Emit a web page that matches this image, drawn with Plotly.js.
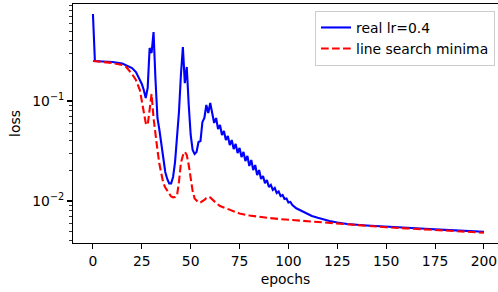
<!DOCTYPE html>
<html>
<head>
<meta charset="utf-8">
<script src="https://cdn.plot.ly/plotly-3.0.1.min.js"></script>
<style>html,body{margin:0;padding:0;background:#fff;}#chart{width:498px;height:292px;}</style>
</head>
<body>
<div id="chart"></div>
<script>
// Blue: real lr=0.4
const realEpochs = [0,1,5,10,15,18,20,22,24,25,26,27,28,29,30,31,32,33,34,35,36,37,38,39,40,41,42,43,44,45,46,47,48,49,50,51,52,53,54,55,56,57,58,59,60,61,
  62,63,64,65,66,67,68,69,70,71,72,73,74,75,76,77,78,79,80,81,82,83,84,85,86,87,88,89,90,91,92,93,94,95,96,97,98,99,100,101,102,
  104,107,109,112,115,118,121,125,130,140,150,160,170,180,190,200];
const realLoss = [0.741,0.251,0.248,0.2455,0.2371,0.2239,0.2138,0.195,0.166,0.148,0.1288,0.1072,0.135,0.339,0.302,0.490,0.162,0.0676,0.0513,0.0355,0.0257,0.0195,0.0166,0.01496,0.0150,0.0174,0.0245,0.0407,0.0776,0.182,0.347,0.151,0.219,0.0912,0.0457,0.0324,0.0295,0.0309,0.0389,0.0398,0.0617,0.0676,0.0912,0.0759,0.0955,0.0759,
  0.0603,0.0676,0.0525,0.0575,0.0457,0.0501,0.0407,0.0447,0.0363,0.0407,0.0331,0.0372,0.0302,0.0339,0.0275,0.0309,0.0251,0.0282,0.0224,0.0257,0.0204,0.0229,0.0182,0.0204,0.0166,0.0178,0.0151,0.0162,0.0138,0.0145,0.0129,0.0135,0.0120,0.01245,0.0112,0.01148,0.01047,0.01059,0.00966,0.00977,0.00912,
  0.00845,0.00785,0.00750,0.00708,0.00679,0.00653,0.00631,0.00610,0.00589,0.00569,0.00552,0.00540,0.00527,0.00514,0.00504,0.00492];

// Red: line search minima
const lsEpochs = [0,5,10,15,17,20,22,24,25,26,27,28,29,30,31,32,33,34,35,36,37,38,39,40,41,42,43,44,45,46,47,48,49,50,51,52,53,54,55,56,57,58,59,60,61,62,63,65,67,70,75,80,85,90,95,100,110,120,130,140,150,160,170,180,190,200];
const lsLoss = [0.251,0.2455,0.240,0.229,0.219,0.186,0.162,0.1288,0.1023,0.0759,0.0603,0.0575,0.0813,0.1175,0.0676,0.0437,0.0324,0.0234,0.0182,0.0151,0.01365,0.0126,0.01161,0.01109,0.01089,0.01096,0.01135,0.0155,0.0240,0.0285,0.0311,0.0288,0.0229,0.0162,0.0126,0.0106,0.0100,0.00966,0.00966,0.00989,0.01023,0.01072,0.01104,0.01084,0.01035,0.0100,0.00955,0.00891,0.00861,0.00804,0.00750,0.00716,0.00692,0.00676,0.00661,0.00649,0.00624,0.00603,0.00585,0.00560,0.00546,0.00533,0.00521,0.00509,0.00495,0.00482];

const xTicks = [0,25,50,75,100,125,150,175,200];
const yTicks = [0.01, 0.1];
const yTickText = ['10<sup>\u22122</sup>', '10<sup>\u22121</sup>'];
const yMinorTicks = [0.004,0.005,0.006,0.007,0.008,0.009,0.02,0.03,0.04,0.05,0.06,0.07,0.08,0.09,0.2,0.3,0.4,0.5,0.6,0.7,0.8,0.9];
const labels = ['real lr=0.4', 'line search minima'];

const font = {family: 'DejaVu Sans, sans-serif', size: 13.9, color: '#000'};

const traces = [
  {x: realEpochs, y: realLoss, type: 'scatter', mode: 'lines', name: labels[0],
   line: {color: '#0000ff', width: 2.1}},
  {x: lsEpochs, y: lsLoss, type: 'scatter', mode: 'lines', name: labels[1],
   line: {color: '#ff0000', width: 2.1, dash: '7.7px,3.3px'}}
];

const layout = {
  width: 498, height: 292,
  margin: {l: 73, r: 0, t: 4, b: 49, pad: 0},
  paper_bgcolor: '#fff', plot_bgcolor: '#fff',
  font: font,
  showlegend: true,
  legend: {x: 0.993, y: 0.971, xanchor: 'right', yanchor: 'top',
    bgcolor: 'rgba(255,255,255,0.8)', bordercolor: '#cccccc', borderwidth: 1,
    font: font},
  xaxis: {range: [-10.2, 207.2], tickvals: xTicks, ticktext: xTicks.map(String),
    showgrid: false, zeroline: false, showline: true, linecolor: '#000', linewidth: 1.1,
    mirror: true, ticks: 'outside', ticklen: 4.9, tickwidth: 1.1, tickcolor: '#000',
    tickfont: font, title: {text: 'epochs', font: font, standoff: 6}},
  yaxis: {type: 'log', range: [-2.42, -0.03], tickvals: yTicks, ticktext: yTickText,
    showgrid: false, zeroline: false, showline: true, linecolor: '#000', linewidth: 1.1,
    mirror: false, ticks: 'outside', ticklen: 4.9, tickwidth: 1.1, tickcolor: '#000',
    tickfont: font,
    minor: {tickvals: yMinorTicks, ticks: 'outside', ticklen: 2.8, tickwidth: 0.8, tickcolor: '#000', showgrid: false},
    title: {text: 'loss', font: font, standoff: 8}}
};

Plotly.newPlot('chart', traces, layout, {displayModeBar: false, staticPlot: true});
</script>
</body>
</html>
